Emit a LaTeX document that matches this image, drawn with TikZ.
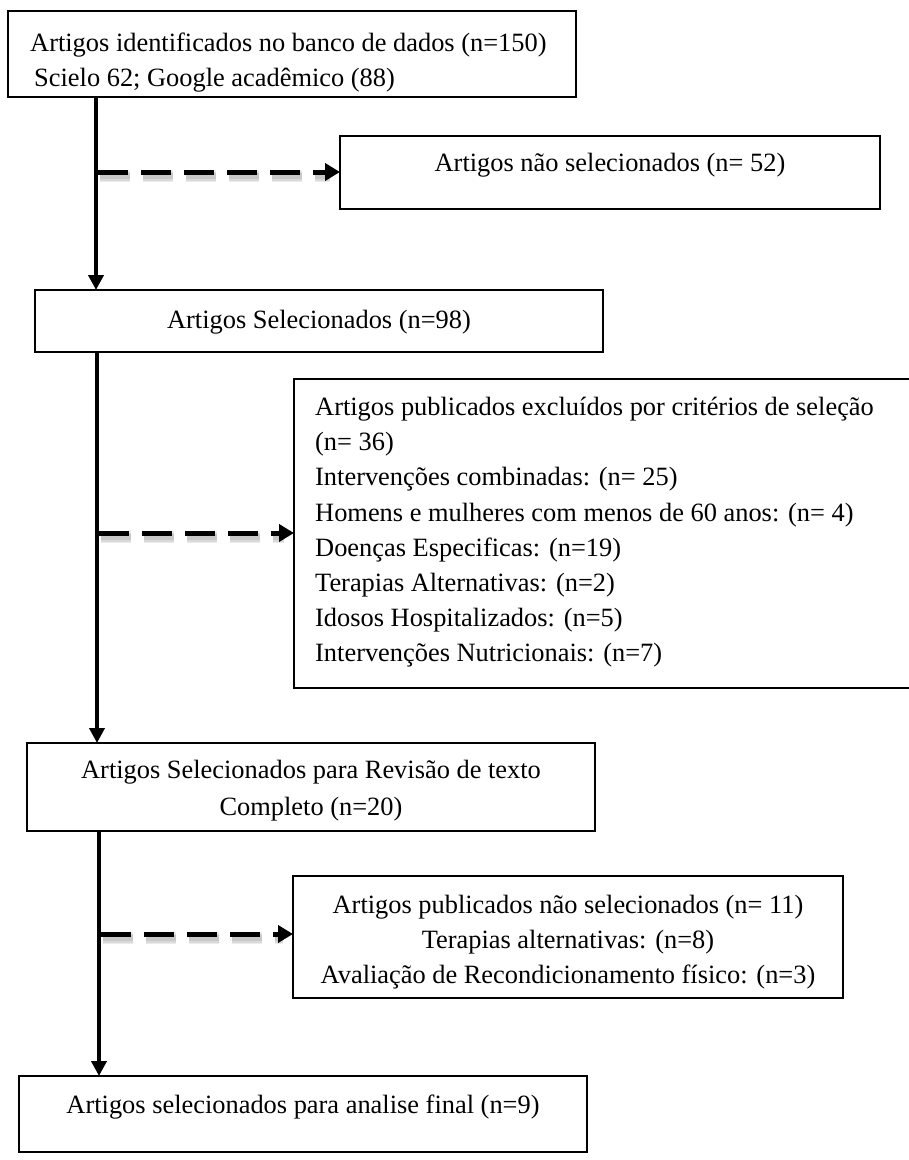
\documentclass[tikz,border=0pt]{standalone}
\usepackage{fontspec}
\setmainfont{Liberation Serif}
\usetikzlibrary{arrows.meta,fit}
\begin{document}
\begin{tikzpicture}[x=1pt,y=-1pt,
  box/.style={draw, line width=2pt, inner sep=0pt, outer sep=0pt},
  txt/.style={font=\fontsize{26.4}{35.2}\selectfont, inner sep=0pt},
  vline/.style={line width=4pt, -{Triangle[length=15pt,width=15pt]}},
  dline/.style={line width=5pt, dash pattern=on 30pt off 13pt, -{Triangle[length=15pt,width=17pt]}},
  dshadow/.style={line width=#1, dash pattern=on 30pt off 13pt, draw=black, opacity=0.08, shorten >=12pt},
]
\useasboundingbox (0,0) rectangle (909,1160);

% boxes
\node[box, fit={(8,11) (576,97)}] (b1) {};
\node[box, fit={(340,136) (880,209)}] (b52) {};
\node[box, fit={(35,290) (603,352)}] (b2) {};
\node[box, fit={(294,379) (915,688)}] (bex) {};
\node[box, fit={(27,743) (595,831)}] (b3) {};
\node[box, fit={(293,876) (843,998)}] (b11) {};
\node[box, fit={(19,1076) (587,1152)}] (b4) {};

% texts
\node[txt, anchor=west, align=left] (t1) at (30,62) {Artigos identificados no banco de dados (n=150)\strut\\\hspace*{4pt}Scielo 62; Google acadêmico (88)\strut};
\node[txt] (t52) at (610,164.7) {Artigos não selecionados (n= 52)\strut};
\node[txt] (t2) at (319,321.7) {Artigos Selecionados (n=98)\strut};
\node[txt, anchor=west, align=left] (tex) at (315,531.7) {Artigos publicados excluídos por critérios de seleção\strut\\(n= 36)\strut\\Intervenções combinadas: (n= 25)\strut\\Homens e mulheres com menos de 60 anos: (n= 4)\strut\\Doenças Especificas: (n=19)\strut\\Terapias Alternativas: (n=2)\strut\\Idosos Hospitalizados: (n=5)\strut\\Intervenções Nutricionais: (n=7)\strut};
\node[txt, font=\fontsize{26.4}{37}\selectfont, align=center] (t3) at (311,790) {Artigos Selecionados para Revisão de texto\strut\\Completo (n=20)\strut};
\node[txt, align=center] (t11) at (568,941.7) {Artigos publicados não selecionados (n= 11)\strut\\Terapias alternativas: (n=8)\strut\\Avaliação de Recondicionamento físico: (n=3)\strut};
\node[txt] (t4) at (303,1106.7) {Artigos selecionados para analise final (n=9)\strut};

% spine coordinates
\coordinate (s1) at (96,0);
\coordinate (s2) at (97,0);
\coordinate (s3) at (99,0);
\coordinate (d1) at (98,172);
\coordinate (d2) at (99,533);
\coordinate (d3) at (101,934);

% solid arrows
\draw[vline] (b1.south -| s1) -- (b2.north -| s1);
\draw[vline] (b2.south -| s2) -- (b3.north -| s2);
\draw[vline] (b3.south -| s3) -- (b4.north -| s3);

% soft shadows of dashed arrows
\begin{scope}[transform canvas={shift={(2pt,-4pt)}}]
  \foreach \w in {12pt,9pt,6pt}{
    \draw[dshadow=\w] (d1) -- (d1 -| b52.west);
    \draw[dshadow=\w] (d2) -- (d2 -| bex.west);
    \draw[dshadow=\w] (d3) -- (d3 -| b11.west);
  }
\end{scope}

% dashed arrows
\draw[dline] (d1) -- (d1 -| b52.west);
\draw[dline] (d2) -- (d2 -| bex.west);
\draw[dline] (d3) -- (d3 -| b11.west);
\end{tikzpicture}
\end{document}
